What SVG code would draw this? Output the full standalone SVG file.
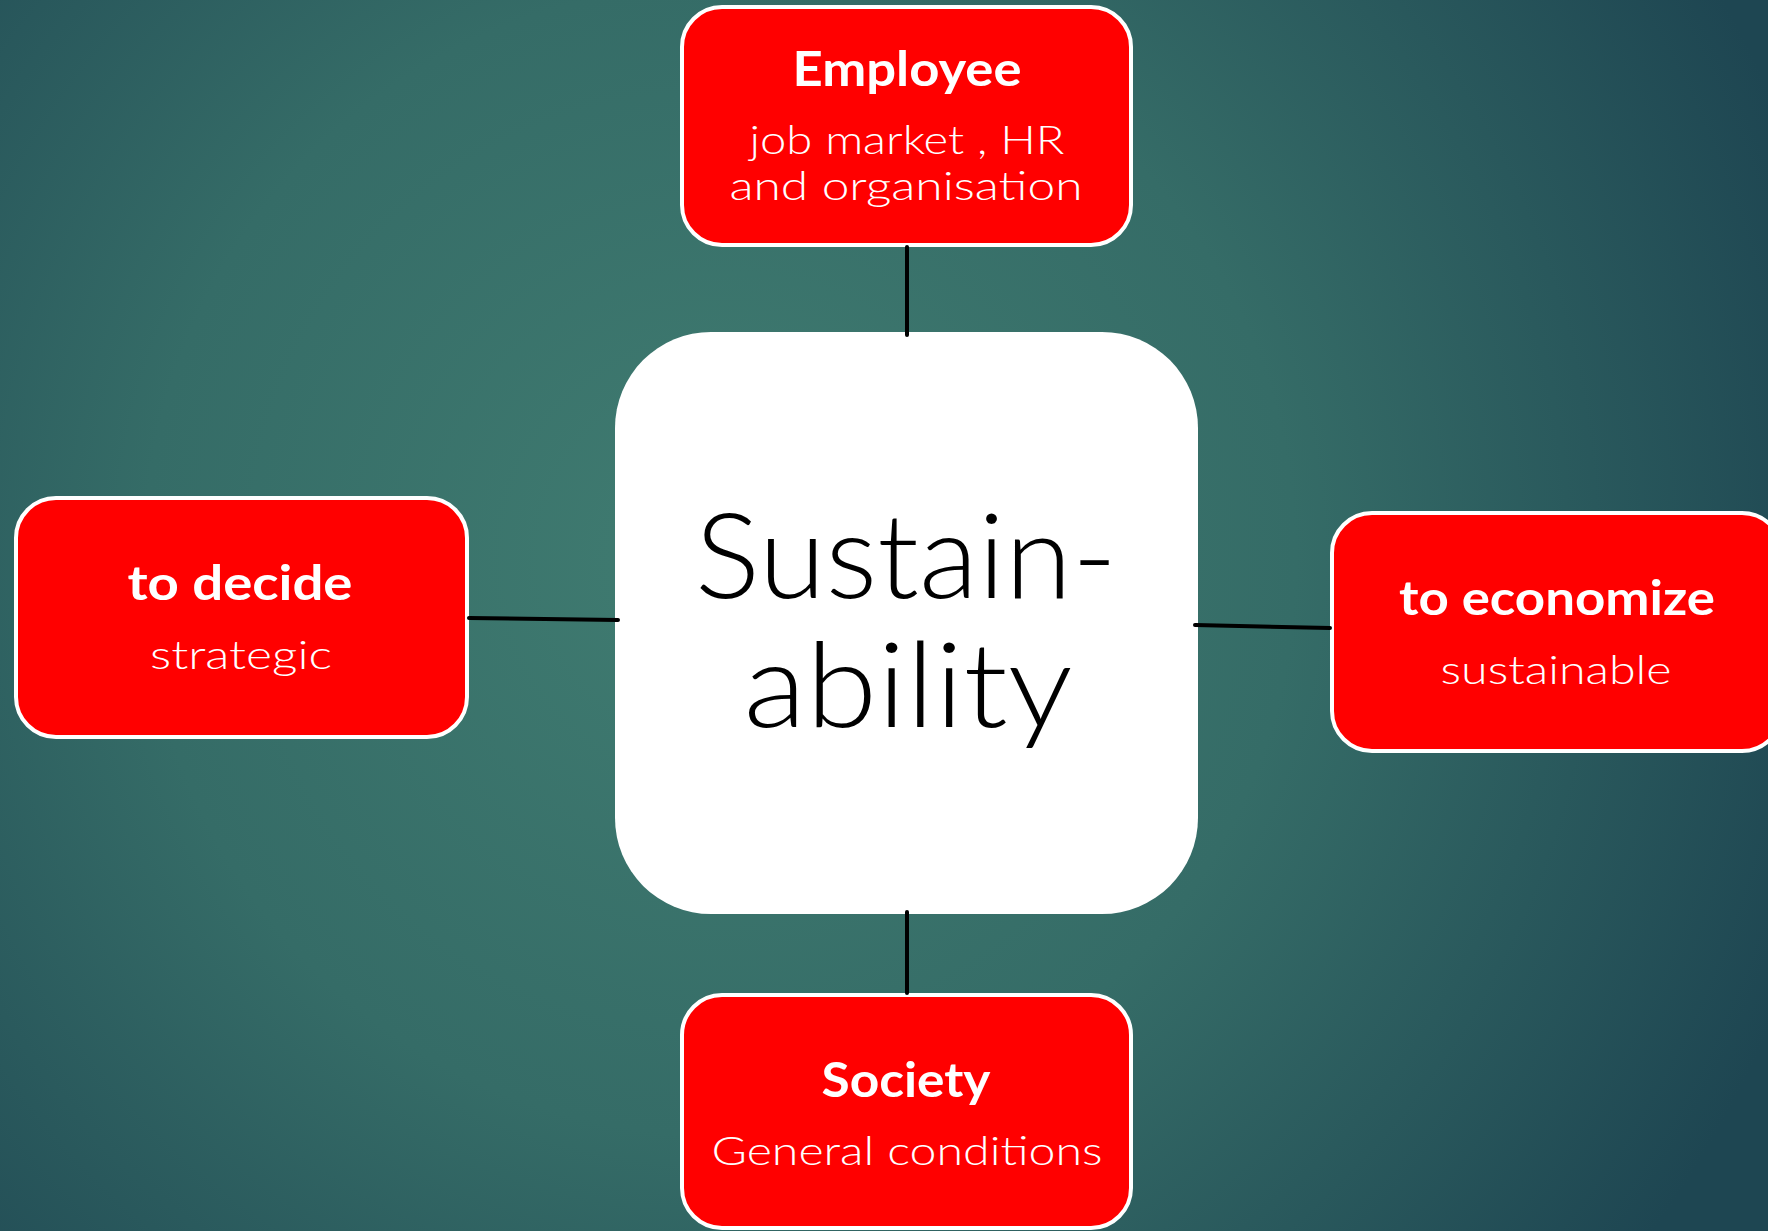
<svg xmlns="http://www.w3.org/2000/svg" width="1768" height="1231" viewBox="0 0 1768 1231">
<defs>
<radialGradient id="bg" cx="720" cy="560" r="1150" gradientUnits="userSpaceOnUse">
<stop offset="0" stop-color="#407C71"/>
<stop offset="0.5" stop-color="#356C67"/>
<stop offset="1" stop-color="#1E4652"/>
</radialGradient>
<style>
.box{fill:#FF0000;stroke:#FFFFFF;stroke-width:4}
.center{fill:#FFFFFF}
.t{font-family:"Lato","Liberation Sans",sans-serif;fill:#FFFFFF;text-anchor:middle}
.b{font-weight:bold;font-size:48px}
.r{font-size:40px;font-weight:300}
.big{font-family:"Lato","Liberation Sans",sans-serif;font-size:118px;fill:#000000;text-anchor:middle;font-weight:300}
.conn{stroke:#000000;stroke-width:4;stroke-linecap:round;fill:none}
</style>
</defs>
<rect x="0" y="0" width="1768" height="1231" fill="url(#bg)"/>
<g id="center">
<rect class="center" x="615" y="332" width="583" height="582" rx="96" ry="96"/>
<text class="big" x="906" y="598" textLength="422" lengthAdjust="spacingAndGlyphs">Sustain-</text>
<text class="big" x="908" y="727" textLength="329" lengthAdjust="spacingAndGlyphs">ability</text>
</g>
<g id="employee">
<rect class="box" x="682" y="7" width="449" height="238" rx="40" ry="40"/>
<text class="t b" x="907" y="86" textLength="229" lengthAdjust="spacingAndGlyphs">Employee</text>
<text class="t r" x="907" y="154" textLength="315" lengthAdjust="spacingAndGlyphs">job market , HR</text>
<text class="t r" x="906" y="200" textLength="353" lengthAdjust="spacingAndGlyphs">and organisation</text>
</g>
<g id="decide">
<rect class="box" x="16" y="498" width="451" height="239" rx="40" ry="40"/>
<text class="t b" x="240" y="600" textLength="225" lengthAdjust="spacingAndGlyphs">to decide</text>
<text class="t r" x="241" y="669" textLength="182" lengthAdjust="spacingAndGlyphs">strategic</text>
</g>
<g id="economize">
<rect class="box" x="1332" y="513" width="450" height="238" rx="40" ry="40"/>
<text class="t b" x="1557" y="615" textLength="316" lengthAdjust="spacingAndGlyphs">to economize</text>
<text class="t r" x="1556" y="684" textLength="231" lengthAdjust="spacingAndGlyphs">sustainable</text>
</g>
<g id="society">
<rect class="box" x="682" y="995" width="449" height="233" rx="40" ry="40"/>
<text class="t b" x="906" y="1097" textLength="169" lengthAdjust="spacingAndGlyphs">Society</text>
<text class="t r" x="907" y="1165" textLength="391" lengthAdjust="spacingAndGlyphs">General conditions</text>
</g>
<g id="connectors">
<line class="conn" x1="907" y1="247" x2="907" y2="335"/>
<line class="conn" x1="469" y1="618" x2="618" y2="620"/>
<line class="conn" x1="1195" y1="625" x2="1330" y2="628"/>
<line class="conn" x1="907" y1="912" x2="907" y2="993"/>
</g>
</svg>
